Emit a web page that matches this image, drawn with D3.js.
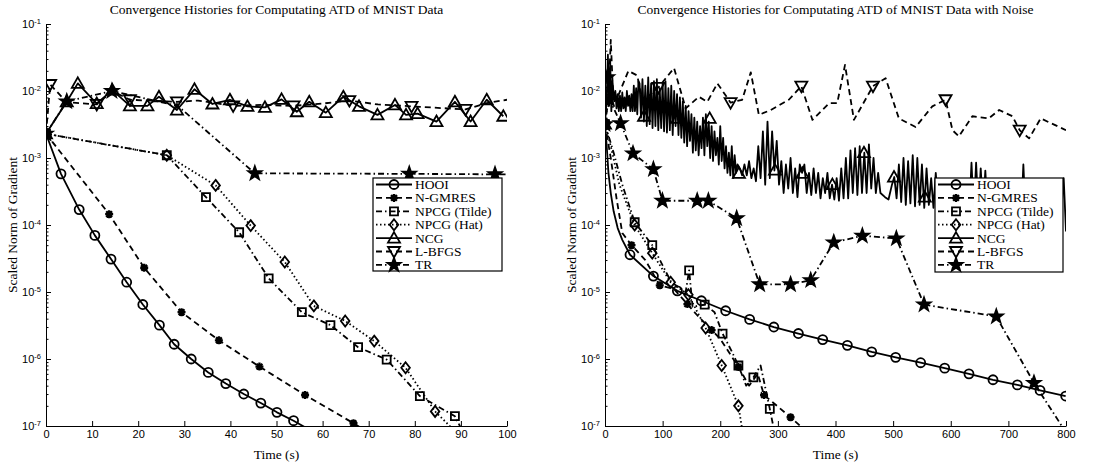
<!DOCTYPE html>
<html>
<head>
<meta charset="utf-8">
<script src="https://cdn.jsdelivr.net/npm/d3@7"></script>
<style>
    body { margin: 0; background: #fff; }
    svg { display: block; }
    .axis text { font-family: "Liberation Sans", Arial, sans-serif; font-size: 11px; fill: #000; }
    .axis path, .axis line { stroke: #000; }
    .serif { font-family: "Liberation Serif", "Times New Roman", serif; fill: #000; }
</style>
</head>
<body>
<svg id="fig" width="1112" height="464"></svg>
<script>
// ---- data: [time (s), scaled norm of gradient] ----
const seriesNames = ['HOOI', 'N-GMRES', 'NPCG (Tilde)', 'NPCG (Hat)', 'NCG', 'L-BFGS', 'TR'];
const yTickExponents = [-7, -6, -5, -4, -3, -2, -1];
const xTicksLeft = [0, 10, 20, 30, 40, 50, 60, 70, 80, 90, 100];
const xTicksRight = [0, 100, 200, 300, 400, 500, 600, 700, 800];
const titleLeft = 'Convergence Histories for Computating ATD of MNIST Data';
const titleRight = 'Convergence Histories for Computating ATD of MNIST Data with Noise';

// left panel
const leftHOOI = [[0, 2.3e-3], [3.25, 5.8e-4], [7.2, 1.7e-4], [10.6, 7e-5], [14.1, 3.1e-5], [17.5, 1.4e-5], [21.0, 6.5e-6], [24.6, 3.2e-6], [27.8, 1.66e-6], [31.5, 1.0e-6], [35.2, 6.3e-7], [39.0, 4.3e-7], [42.9, 3.0e-7], [46.6, 2.2e-7], [50.1, 1.6e-7], [53.7, 1.2e-7], [57.5, 8.5e-8]];
const leftNGMRES = [[0, 2.3e-3], [13.7, 1.45e-4], [21.3, 2.3e-5], [29.4, 5.0e-6], [37.5, 1.9e-6], [46.3, 7.7e-7], [56.2, 2.9e-7], [66.7, 1.1e-7], [70, 8e-8]];
const leftTilde = [[0, 2.3e-3], [26.2, 1.1e-3], [34.7, 2.6e-4], [41.9, 7.8e-5], [48.3, 1.6e-5], [55.5, 5.0e-6], [61.7, 3.2e-6], [67.7, 1.5e-6], [73.9, 9.8e-7], [81.1, 2.8e-7], [88.7, 1.4e-7], [90.5, 8e-8]];
const leftHat = [[0, 2.3e-3], [26.2, 1.1e-3], [36.8, 3.9e-4], [44.4, 9.8e-5], [51.8, 2.8e-5], [58.1, 6.2e-6], [64.9, 3.7e-6], [71.2, 1.85e-6], [78.0, 7.4e-7], [84.4, 1.65e-7], [89, 8e-8]];
const leftNCG = [[0, 2.3e-3], [4.5, 6.9e-3], [6.9, 1.3e-2], [11.0, 6.5e-3], [14.4, 1.03e-2], [18.2, 6.0e-3], [22.0, 6.0e-3], [24.5, 8.2e-3], [28.4, 5.2e-3], [32.2, 1.06e-2], [36.1, 6.4e-3], [39.9, 7.4e-3], [43.7, 5.9e-3], [47.5, 5.7e-3], [51.1, 7.5e-3], [54.4, 4.9e-3], [57.1, 6.9e-3], [60.7, 4.75e-3], [64.5, 8.2e-3], [67.9, 5.9e-3], [71.9, 4.4e-3], [75.7, 6.2e-3], [78.1, 4.4e-3], [80.6, 4.6e-3], [84.7, 3.5e-3], [88.7, 6.9e-3], [92.1, 3.5e-3], [95.6, 7.4e-3], [99.2, 4.2e-3]];
const leftLBFGS = [[0, 2.3e-3], [0.9, 1.25e-2], [4.5, 6.8e-3], [11.0, 6.3e-3], [14.4, 1.0e-2], [18.2, 7.4e-3], [28.4, 6.9e-3], [33, 7.2e-3], [40.6, 6.0e-3], [47, 6.2e-3], [53.7, 6.0e-3], [60, 6.5e-3], [65.8, 7.2e-3], [72, 6.3e-3], [79.3, 5.9e-3], [85, 5.6e-3], [91, 5.3e-3], [95.6, 6.6e-3], [100, 7.4e-3]];
const leftLBFGSMarks = [[0.9, 1.25e-2], [11.0, 6.3e-3], [18.2, 7.4e-3], [28.4, 6.9e-3], [40.6, 6.0e-3], [53.7, 6.0e-3], [65.8, 7.2e-3], [79.3, 5.9e-3], [91, 5.3e-3]];
const leftTR = [[0, 2.3e-3], [4.5, 7.0e-3], [14.3, 1.0e-2], [28.6, 6.0e-3], [45.3, 5.9e-4], [78.8, 5.8e-4], [97.4, 5.7e-4], [100, 5.7e-4]];
const leftTRMarks = [[0, 2.3e-3], [4.5, 7.0e-3], [14.3, 1.0e-2], [45.3, 5.9e-4], [78.8, 5.8e-4], [97.4, 5.7e-4]];

// right panel (with noise)
const rightHOOI = [[0, 3.3e-3], [3, 1.5e-3], [6, 6e-4], [10, 3e-4], [15, 1.6e-4], [22, 9e-5], [30, 6e-5], [43.4, 3.6e-5], [84, 1.73e-5], [125.6, 1.04e-5], [167.3, 7.4e-6], [209.4, 5.25e-6], [251, 3.9e-6], [293, 3.0e-6], [335.6, 2.4e-6], [377.8, 1.95e-6], [420.6, 1.6e-6], [462.8, 1.28e-6], [504.4, 1.06e-6], [547.8, 8.8e-7], [589.5, 7.3e-7], [631.6, 6.0e-7], [673.3, 4.9e-7], [715.6, 4.1e-7], [755, 3.4e-7], [799.4, 2.8e-7]];
const rightHOOIMarks = [[0, 3.3e-3], [43.4, 3.6e-5], [84, 1.73e-5], [125.6, 1.04e-5], [167.3, 7.4e-6], [209.4, 5.25e-6], [251, 3.9e-6], [293, 3.0e-6], [335.6, 2.4e-6], [377.8, 1.95e-6], [420.6, 1.6e-6], [462.8, 1.28e-6], [504.4, 1.06e-6], [547.8, 8.8e-7], [589.5, 7.3e-7], [631.6, 6.0e-7], [673.3, 4.9e-7], [715.6, 4.1e-7], [755, 3.4e-7], [799.4, 2.8e-7]];
const rightNGMRES = [[0, 3.2e-3], [10, 1.0e-3], [20, 2.5e-4], [30, 7.6e-5], [46, 5.0e-5], [70, 3.0e-5], [95, 1.26e-5], [120, 1.1e-5], [143, 6.6e-6], [160, 4.5e-6], [185, 2.7e-6], [200, 2.0e-6], [231.5, 7.6e-7], [250, 4.0e-7], [265, 6.0e-7], [276, 2.9e-7], [322, 1.35e-7], [345, 9e-8]];
const rightNGMRESMarks = [[0, 3.2e-3], [46, 5.0e-5], [95, 1.26e-5], [143, 6.6e-6], [185, 2.7e-6], [231.5, 7.6e-7], [276, 2.9e-7], [322, 1.35e-7]];
const rightTilde = [[0, 3.2e-3], [15, 1.2e-3], [30, 4e-4], [51.5, 1.1e-4], [82, 5e-5], [100, 2.5e-5], [115, 1.4e-5], [140, 1.0e-5], [146, 2.1e-5], [152, 6e-6], [173, 6.5e-6], [190, 5e-6], [204, 2.4e-6], [220, 1.3e-6], [231.5, 8e-7], [245, 4e-7], [257.5, 5.3e-7], [270, 8e-7], [286, 1.8e-7], [293, 9e-8]];
const rightTildeMarks = [[0, 3.2e-3], [51.5, 1.1e-4], [82, 5e-5], [146, 2.1e-5], [173, 6.5e-6], [204, 2.4e-6], [231.5, 8e-7], [257.5, 5.3e-7], [286, 1.8e-7]];
const rightHat = [[0, 3.2e-3], [10, 1.5e-3], [25, 4e-4], [51.5, 1.0e-4], [82, 3.8e-5], [114, 1.4e-5], [144.7, 9.1e-6], [174.7, 2.9e-6], [202.5, 8e-7], [231.5, 2e-7], [238, 9e-8]];
const rightHatMarks = [[0, 3.2e-3], [51.5, 1.0e-4], [82, 3.8e-5], [114, 1.4e-5], [144.7, 9.1e-6], [174.7, 2.9e-6], [202.5, 8e-7], [231.5, 2e-7]];
const rightNCG = [[0, 3.2e-3], [3, 8e-3], [5, 3.5e-2], [7, 6e-3], [9, 2.8e-2], [11, 5e-3], [13, 1.4e-2],
    [16, 7e-3], [18, 1.0e-2], [20, 5.5e-3], [22, 9e-3], [24, 5e-3], [26, 8.5e-3], [28, 5e-3], [30, 9.5e-3], [32, 5.5e-3], [34, 8e-3], [36, 5e-3], [38, 1.0e-2], [40, 6e-3], [42, 8.5e-3], [44, 5e-3], [46, 9e-3], [48, 5e-3], [50, 1.2e-2], [52, 5e-3], [54, 1.1e-2], [56, 4.5e-3], [58, 1.4e-2],
    [60, 1.3e-2], [62.5, 4e-3], [65, 1.5e-2], [67.5, 3.5e-3], [70, 1.2e-2], [72.5, 3e-3], [75, 1.6e-2], [77.5, 3.2e-3], [80, 1.3e-2], [82.5, 2.8e-3], [85, 1.4e-2], [87.5, 3e-3], [90, 1.5e-2], [92.5, 2.6e-3], [95, 1.1e-2], [97.5, 2.8e-3], [100, 1.3e-2], [102.5, 2.5e-3], [105, 1.4e-2], [107.5, 2.4e-3], [110, 1.1e-2], [112.5, 2.6e-3], [115, 1.2e-2], [117.5, 2.2e-3], [120, 1.0e-2], [122.5, 3e-3], [125, 9e-3], [127.5, 2.2e-3], [130, 8e-3], [132.5, 2e-3], [135, 7e-3], [137.5, 1.7e-3], [140, 6e-3], [142.5, 1.5e-3], [145, 5e-3], [147.5, 1.8e-3], [150, 4.5e-3], [152.5, 1.2e-3], [155, 4e-3], [157.5, 1.3e-3], [160, 3.5e-3], [162.5, 1.1e-3], [165, 3e-3], [167.5, 1.4e-3], [170, 4e-3], [172.5, 1.1e-3], [175, 4.5e-3], [177.5, 1.5e-3], [180, 3.5e-3], [182.5, 1.0e-3], [185, 3e-3], [187.5, 9e-4], [190, 2.5e-3], [192.5, 1.1e-3], [195, 2e-3], [197.5, 8e-4], [200, 3e-3], [202.5, 9e-4], [205, 2e-3], [207.5, 7e-4], [210, 1.5e-3], [212.5, 6e-4], [215, 1.2e-3], [217.5, 5.5e-4], [220, 1.5e-3], [222.5, 5e-4], [225, 1.1e-3], [227.5, 6e-4], [230, 8e-4],
    [234, 7e-4], [238, 5.5e-4], [242, 8e-4], [246, 5.5e-4], [250, 9e-4], [254, 5e-4], [258, 7e-4], [262, 4.5e-4], [266, 1.5e-3], [270, 5e-4], [274, 2.5e-3], [278, 4e-4], [282, 3.5e-3], [286, 5e-4], [290, 2.5e-3], [294, 6.5e-4], [298, 1.8e-3], [302, 4e-4], [306, 9e-4], [310, 3e-4], [314, 8e-4], [318, 3.5e-4], [322, 1.0e-3], [326, 3e-4], [330, 7e-4], [334, 2.6e-4], [338, 8e-4], [342, 6e-4], [346, 8e-4], [350, 3e-4], [354, 6e-4], [358, 2.8e-4], [362, 7e-4], [366, 3e-4], [370, 6e-4], [374, 2.5e-4], [378, 5e-4], [382, 3e-4], [386, 6e-4], [390, 2.5e-4], [394, 4e-4], [398, 2.4e-4], [402, 5e-4], [406, 2.3e-4], [410, 7e-4], [414, 2.5e-4], [418, 1.0e-3], [422, 2.5e-4], [426, 1.3e-3], [430, 3e-4], [434, 1.4e-3], [438, 2.8e-4], [442, 1.5e-3], [446, 3e-4], [450, 1.2e-3], [454, 3e-4], [458, 1.6e-3], [462, 3.5e-4], [466, 1.0e-3], [470, 3e-4], [474, 6e-4], [478, 3e-4], [486, 2.6e-4], [492, 2.4e-4], [498, 4e-4], [502, 5.2e-4], [506, 2.5e-4], [510, 8e-4], [514, 2.2e-4], [518, 1.0e-3], [522, 2e-4], [526, 9e-4], [530, 2.1e-4], [534, 1.1e-3], [538, 1.9e-4], [542, 1.0e-3], [546, 2.0e-4], [550, 8e-4], [554, 1.8e-4], [558, 7e-4], [562, 2e-4], [566, 5e-4], [570, 1.8e-4], [574, 6e-4], [578, 2e-4], [582, 4.5e-4], [586, 1.5e-4], [590, 4e-4], [596, 1.6e-4], [602, 4e-4], [608, 1.5e-4], [614, 3.5e-4], [620, 1.4e-4], [626, 4e-4], [632, 1.5e-4], [636, 8.5e-4], [640, 1.5e-4], [644, 8.5e-4], [648, 1.6e-4], [652, 7e-4], [656, 1.6e-4], [660, 6.5e-4], [664, 1.5e-4], [668, 4e-4], [674, 1.4e-4], [680, 4e-4], [686, 1.3e-4], [692, 3.5e-4], [698, 1.3e-4], [704, 3.5e-4], [710, 1.2e-4], [716, 3.5e-4], [722, 1.2e-4], [726, 8e-4], [730, 1.3e-4], [736, 3.5e-4], [742, 1.2e-4], [748, 3e-4], [754, 1.1e-4], [760, 3e-4], [766, 1.1e-4], [772, 3e-4], [778, 1.0e-4], [784, 3e-4], [790, 1.0e-4], [796, 5e-4], [800, 8e-5]];
const rightNCGMarks = [[0, 3.2e-3], [67.7, 4.2e-3], [125.6, 3.9e-3], [181.7, 3.9e-3], [232.5, 5.9e-4], [295, 6.6e-4], [342.5, 5.9e-4], [394.6, 4.0e-4], [449.4, 1.2e-3], [501.5, 5.2e-4], [555, 2.6e-4]];
const rightLBFGS = [[0, 3.2e-3], [6, 7.5e-3], [10, 5.8e-2], [14, 9e-3], [20, 7.4e-3], [40.6, 2.0e-2], [56, 1.7e-2], [65, 7e-3], [92.7, 1.13e-2], [119.8, 2.2e-2], [140, 5.5e-3], [163, 8.2e-3], [177.6, 6.9e-3], [195, 1.3e-2], [218, 6.7e-3], [238, 7.4e-3], [253, 1.9e-2], [267, 4.4e-3], [287.5, 5.2e-3], [319, 7.4e-3], [340.7, 1.18e-2], [360, 3.7e-3], [389, 6.6e-3], [403, 6.6e-3], [416.5, 2.45e-2], [432, 3.7e-3], [465, 1.18e-2], [487, 1.55e-2], [510, 3.9e-3], [539, 2.9e-3], [568, 5.9e-3], [591, 7.4e-3], [603, 2.6e-3], [614, 2.1e-3], [637.5, 4.2e-3], [666, 3.9e-3], [684, 5.2e-3], [707, 4.2e-3], [719.6, 2.6e-3], [736, 1.96e-3], [756, 3.9e-3], [800, 2.6e-3]];
const rightLBFGSMarks = [[6, 7.5e-3], [92.7, 1.13e-2], [218, 6.7e-3], [340.7, 1.18e-2], [465, 1.18e-2], [591, 7.4e-3], [719.6, 2.6e-3]];
const rightTR = [[0, 3.2e-3], [4, 1.6e-2], [8, 7.5e-3], [27, 3.3e-3], [48.6, 1.17e-3], [84, 6.8e-4], [99.6, 2.3e-4], [160, 2.3e-4], [179.4, 2.3e-4], [228.5, 1.26e-4], [268.4, 1.3e-5], [322, 1.3e-5], [357, 1.5e-5], [397, 5.5e-5], [446.6, 6.9e-5], [505.6, 6.3e-5], [553.6, 6.5e-6], [679, 4.3e-6], [744.4, 4.4e-7], [800, 8e-8]];
const rightTRMarks = [[0, 3.2e-3], [4, 1.6e-2], [8, 7.5e-3], [27, 3.3e-3], [48.6, 1.17e-3], [84, 6.8e-4], [99.6, 2.3e-4], [160, 2.3e-4], [179.4, 2.3e-4], [228.5, 1.26e-4], [268.4, 1.3e-5], [322, 1.3e-5], [357, 1.5e-5], [397, 5.5e-5], [446.6, 6.9e-5], [505.6, 6.3e-5], [553.6, 6.5e-6], [679, 4.3e-6], [744.4, 4.4e-7]];

// ---- line / marker styles, in legend order ----
const styles = {
    'HOOI': { dash: null, marker: 'circle' },
    'N-GMRES': { dash: '6,4', marker: 'asterisk' },
    'NPCG (Tilde)': { dash: '6,3,1.5,3', marker: 'square' },
    'NPCG (Hat)': { dash: '1.5,2.5', marker: 'diamond' },
    'NCG': { dash: null, marker: 'triUp' },
    'L-BFGS': { dash: '6,4', marker: 'triDown' },
    'TR': { dash: '6,3,1.5,3', marker: 'star' }
};
const lineWidth = 1.8;

function starPath(ro, ri) {
    let pts = [];
    for (let i = 0; i < 10; i++) {
        let r = i % 2 === 0 ? ro : ri;
        let a = -Math.PI / 2 + i * Math.PI / 5;
        pts.push([r * Math.cos(a), r * Math.sin(a)]);
    }
    return 'M' + pts.map(p => p[0].toFixed(2) + ',' + p[1].toFixed(2)).join('L') + 'Z';
}

const markerShapes = {
    circle: d3.symbol(d3.symbolCircle, 64)(),
    square: 'M-4,-4H4V4H-4Z',
    diamond: 'M0,-5.5L4.3,0L0,5.5L-4.3,0Z',
    triUp: 'M0,-6L6,4.5L-6,4.5Z',
    triDown: 'M0,6L6,-4.5L-6,-4.5Z',
    star: starPath(7, 2.8),
    asterisk: 'M-4,0H4M0,-4V4M-2.9,-2.9L2.9,2.9M-2.9,2.9L2.9,-2.9'
};

function styleMarker(sel, type) {
    sel.attr('d', markerShapes[type])
        .attr('stroke', '#000')
        .attr('stroke-width', type === 'asterisk' ? 2.3 : lineWidth)
        .attr('fill', type === 'star' ? '#000' : 'none')
        .attr('stroke-linejoin', 'miter');
}

class ConvergencePlot {

    constructor(_config, _series) {
        this.config = {
            parentElement: _config.parentElement,
            id: _config.id,
            left: _config.left,
            right: _config.right,
            top: 24,
            bottom: 426,
            xDomain: _config.xDomain,
            xTicks: _config.xTicks,
            title: _config.title,
            legend: _config.legend
        };
        this.series = _series;
        this.initVis();
    }

    initVis() {
        let vis = this;
        let c = vis.config;

        vis.xScale = d3.scaleLinear().domain(c.xDomain).range([c.left, c.right]);
        vis.yScale = d3.scaleLog().domain([1e-7, 1e-1]).range([c.bottom, c.top]);

        vis.svg = d3.select(c.parentElement);
        vis.g = vis.svg.append('g');

        vis.g.append('clipPath').attr('id', 'clip-' + c.id)
            .append('rect')
            .attr('x', c.left).attr('y', c.top)
            .attr('width', c.right - c.left).attr('height', c.bottom - c.top);

        // minor ticks on the log axis
        let minor = [];
        yTickExponents.slice(0, -1).forEach(e => {
            for (let k = 2; k <= 9; k++) minor.push(k * Math.pow(10, e));
        });

        vis.g.append('g')
            .attr('class', 'axis')
            .attr('transform', `translate(${c.left},0)`)
            .call(d3.axisLeft(vis.yScale).tickValues(minor).tickSizeInner(-2.5).tickSizeOuter(0).tickFormat(''))
            .call(g => g.select('.domain').remove());

        vis.yAxisG = vis.g.append('g')
            .attr('class', 'axis')
            .attr('transform', `translate(${c.left},0)`)
            .call(d3.axisLeft(vis.yScale)
                .tickValues(yTickExponents.map(e => Math.pow(10, e)))
                .tickSizeInner(-5).tickSizeOuter(0).tickPadding(5)
                .tickFormat(''));

        vis.yAxisG.selectAll('.tick text').each(function (d) {
            let t = d3.select(this);
            t.attr('dy', '0.35em');
            t.append('tspan').text('10');
            t.append('tspan').attr('dy', '-0.55em').attr('font-size', '7.5px').text(Math.round(Math.log10(d)));
        });

        vis.g.append('g')
            .attr('class', 'axis')
            .attr('transform', `translate(0,${c.bottom})`)
            .call(d3.axisBottom(vis.xScale).tickValues(c.xTicks).tickSizeInner(-5).tickSizeOuter(0).tickPadding(4).tickFormat(d3.format('d')));

        vis.g.append('text')
            .attr('class', 'serif')
            .attr('x', (c.left + c.right) / 2).attr('y', 14)
            .attr('text-anchor', 'middle')
            .attr('font-size', '13.5px')
            .text(c.title);

        vis.g.append('text')
            .attr('class', 'serif')
            .attr('x', (c.left + c.right) / 2).attr('y', 459)
            .attr('text-anchor', 'middle')
            .attr('font-size', '13.5px')
            .text('Time (s)');

        vis.g.append('text')
            .attr('class', 'serif')
            .attr('transform', `translate(${c.left - 29},${(c.top + c.bottom) / 2}) rotate(-90)`)
            .attr('text-anchor', 'middle')
            .attr('font-size', '13.5px')
            .text('Scaled Norm of Gradient');

        vis.chart = vis.g.append('g').attr('clip-path', `url(#clip-${c.id})`);
    }

    renderVis() {
        let vis = this;
        let line = d3.line()
            .x(d => vis.xScale(d[0]))
            .y(d => vis.yScale(d[1]));

        vis.series.forEach(s => {
            let st = styles[s.name];
            vis.chart.append('path')
                .datum(s.line)
                .attr('d', line)
                .attr('fill', 'none')
                .attr('stroke', '#000')
                .attr('stroke-width', lineWidth)
                .attr('stroke-linejoin', 'round')
                .attr('stroke-dasharray', st.dash);
        });

        vis.series.forEach(s => {
            let st = styles[s.name];
            vis.chart.selectAll(null)
                .data(s.marks)
                .join('path')
                .attr('transform', d => `translate(${vis.xScale(d[0])},${vis.yScale(d[1])})`)
                .call(styleMarker, st.marker);
        });

        // legend
        let L = vis.config.legend;
        let lg = vis.g.append('g').attr('transform', `translate(${L.x},${L.y})`);
        lg.append('rect')
            .attr('width', L.w).attr('height', L.h)
            .attr('fill', '#fff').attr('stroke', '#000').attr('stroke-width', 1.2);

        let rows = lg.selectAll('.row')
            .data(seriesNames)
            .join('g')
            .attr('class', 'row')
            .attr('transform', (d, i) => `translate(0,${6.5 + i * 13.4})`);

        rows.append('line')
            .attr('x1', 3).attr('x2', 39)
            .attr('stroke', '#000').attr('stroke-width', lineWidth)
            .attr('stroke-dasharray', d => styles[d].dash);
        rows.append('path')
            .attr('transform', 'translate(21,0)')
            .each(function (d) { d3.select(this).call(styleMarker, styles[d].marker); });
        rows.append('text')
            .attr('class', 'serif')
            .attr('x', 42).attr('y', 4.5)
            .attr('font-size', '13.5px')
            .text(d => d);
    }
}

let leftPlot = new ConvergencePlot({
    parentElement: '#fig', id: 'left', left: 46, right: 507,
    xDomain: [0, 100], xTicks: xTicksLeft, title: titleLeft,
    legend: { x: 373, y: 178, w: 129, h: 93 }
}, [
    { name: 'HOOI', line: leftHOOI, marks: leftHOOI.slice(0, -1) },
    { name: 'N-GMRES', line: leftNGMRES, marks: leftNGMRES.slice(0, -1) },
    { name: 'NPCG (Tilde)', line: leftTilde, marks: leftTilde.slice(0, -1) },
    { name: 'NPCG (Hat)', line: leftHat, marks: leftHat.slice(0, -1) },
    { name: 'NCG', line: leftNCG, marks: leftNCG },
    { name: 'L-BFGS', line: leftLBFGS, marks: leftLBFGSMarks },
    { name: 'TR', line: leftTR, marks: leftTRMarks }
]);
leftPlot.renderVis();

let rightPlot = new ConvergencePlot({
    parentElement: '#fig', id: 'right', left: 605, right: 1066,
    xDomain: [0, 800], xTicks: xTicksRight, title: titleRight,
    legend: { x: 935, y: 178, w: 128, h: 94 }
}, [
    { name: 'HOOI', line: rightHOOI, marks: rightHOOIMarks },
    { name: 'N-GMRES', line: rightNGMRES, marks: rightNGMRESMarks },
    { name: 'NPCG (Tilde)', line: rightTilde, marks: rightTildeMarks },
    { name: 'NPCG (Hat)', line: rightHat, marks: rightHatMarks },
    { name: 'NCG', line: rightNCG, marks: rightNCGMarks },
    { name: 'L-BFGS', line: rightLBFGS, marks: rightLBFGSMarks },
    { name: 'TR', line: rightTR, marks: rightTRMarks }
]);
rightPlot.renderVis();
</script>
</body>
</html>
